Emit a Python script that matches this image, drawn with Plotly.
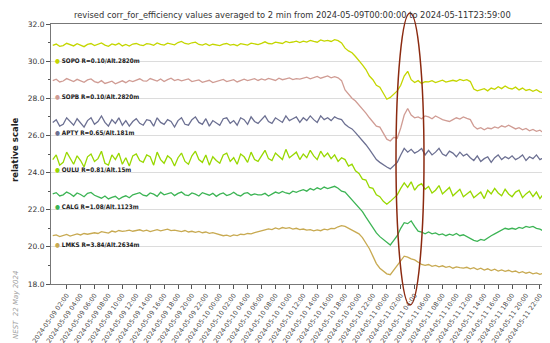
import pandas as pd
import plotly.graph_objects as go

# 30-minute samples, 2024-05-09 00:00 .. 2024-05-11 23:30
times = pd.date_range("2024-05-09 00:00", periods=144, freq="30min")

stations = ["SOPO", "SOPB", "APTY", "OULU", "CALG", "LMKS"]
station_labels = ["SOPO R=0.10/Alt.2820m", "SOPB R=0.10/Alt.2820m", "APTY R=0.65/Alt.181m",
                  "OULU R=0.81/Alt.15m", "CALG R=1.08/Alt.1123m", "LMKS R=3.84/Alt.2634m"]
label_levels = [30.05, 28.1, 26.15, 24.15, 22.15, 20.15]
colors = ["#c4d600", "#d09c94", "#6c7092", "#98d800", "#3cb454", "#c8aa52"]

sopo = [30.85, 30.92, 30.80, 30.84, 30.96, 30.88, 30.82, 30.94, 30.86, 30.78, 30.90, 30.95,
        30.84, 30.90, 30.98, 30.86, 30.80, 30.93, 30.87, 30.96, 30.82, 30.90, 30.81, 30.92,
        30.95, 30.88, 30.84, 30.94, 30.92, 30.85, 30.98, 30.90, 30.86, 30.97, 30.93, 30.88,
        31.00, 31.06, 30.95, 30.92, 30.99, 31.02, 30.90, 30.86, 30.94, 30.84, 30.91, 30.87,
        30.84, 30.92, 30.95, 30.86, 30.90, 30.83, 30.94, 30.90, 30.86, 30.97, 30.92, 30.89,
        30.96, 31.04, 30.95, 30.93, 31.02, 30.98, 30.95, 31.06, 31.00, 31.03, 31.08, 31.00,
        31.08, 31.03, 31.12, 31.06, 31.02, 31.14, 31.08, 31.12, 31.06, 31.16, 31.10, 30.98,
        30.70, 30.55, 30.45, 30.25, 30.05, 29.80, 29.55, 29.20, 29.00, 28.70, 28.60, 28.30,
        27.95, 28.05, 28.20, 28.40, 28.70, 29.20, 29.45, 29.00, 28.85, 28.95, 28.80, 28.90,
        28.88, 28.95, 28.85, 28.92, 28.98, 28.87, 28.90, 28.97, 28.92, 29.02, 28.95, 29.00,
        28.90, 28.50, 28.40, 28.47, 28.52, 28.40, 28.55, 28.48, 28.62, 28.52, 28.66, 28.55,
        28.50, 28.60, 28.45, 28.55, 28.42, 28.48, 28.38, 28.46, 28.35, 28.30, 28.40, 28.30]

sopb = [28.95, 29.03, 28.88, 28.93, 29.06, 28.98, 28.90, 29.02, 28.94, 28.86, 28.99, 29.04,
        28.90, 28.84, 28.95, 28.80, 28.86, 28.92, 28.78, 28.88, 28.94, 28.84, 28.96, 28.90,
        28.98, 29.05, 28.94, 28.92, 29.06, 28.99, 28.93, 29.04, 28.90, 29.00, 29.08, 28.95,
        29.02, 28.94, 28.98, 29.04, 28.90, 28.95, 28.99, 28.86, 28.93, 28.97, 28.85, 28.92,
        28.96, 29.02, 28.90, 28.94, 29.00, 28.88, 28.97, 29.03, 28.95, 29.00, 29.06, 28.96,
        29.04, 28.98, 29.07, 29.02, 28.96, 29.08, 29.00, 29.05, 29.10, 29.01, 29.06, 29.03,
        29.08, 29.14, 29.05, 29.12, 29.18, 29.08, 29.12, 29.20, 29.10, 29.16, 29.10, 28.95,
        28.45, 28.20, 28.00, 27.85, 27.65, 27.40, 27.20, 26.95, 26.75, 26.50, 26.45, 26.10,
        25.80, 25.70, 25.90, 25.85, 26.40, 27.10, 27.45, 27.10, 26.95, 27.00, 26.90, 27.05,
        27.00, 26.90, 27.05, 26.95, 26.85, 26.80, 26.75, 26.85, 26.95, 26.88, 27.00, 26.92,
        26.85, 26.50, 26.35, 26.42, 26.30, 26.40, 26.36, 26.46, 26.40, 26.52, 26.45, 26.55,
        26.45, 26.35, 26.42, 26.30, 26.38, 26.25, 26.32, 26.22, 26.28, 26.15, 26.20, 26.12]

apty = [26.70, 26.85, 26.50, 26.60, 26.95, 26.75, 26.55, 26.90, 26.65, 26.45, 26.80, 26.95,
        26.60, 26.75, 27.05, 26.70, 26.50, 26.85, 26.65, 26.95, 26.55, 26.80, 26.50, 26.75,
        26.90, 26.65, 26.55, 26.85, 26.80, 26.50, 26.95, 26.70, 26.60, 26.85, 26.75, 26.45,
        26.80, 26.95, 26.60, 26.55, 26.85, 27.00, 26.70, 26.60, 26.90, 26.50, 26.80, 26.65,
        26.55, 26.90, 26.95, 26.65, 26.80, 26.55, 26.95, 26.85, 26.60, 27.00, 26.75, 26.65,
        26.85, 27.05, 26.75, 26.65, 26.95, 26.80, 26.70, 27.05, 26.80, 26.90, 27.00, 26.70,
        26.95, 26.80, 27.05, 26.85, 26.70, 27.05, 26.85, 26.95, 26.80, 27.00, 26.90, 26.85,
        26.60, 26.45, 26.35, 26.15, 25.95, 25.75, 25.50, 25.25, 24.95, 24.70, 24.55, 24.40,
        24.30, 24.20, 24.40, 24.55, 24.95, 25.30, 25.10, 25.25, 25.05, 25.15, 25.30, 24.95,
        25.20, 24.95, 25.10, 25.30, 25.00, 24.90, 25.15, 25.05, 24.85, 25.10, 24.90, 25.00,
        24.80, 24.65, 24.90, 24.60, 24.75, 24.85, 24.55, 24.80, 24.95, 24.70, 24.85, 24.75,
        24.90, 24.70, 24.80, 24.95, 24.65, 24.85, 24.75, 24.95, 24.70, 24.80, 24.90, 24.75]

oulu = [24.70, 24.95, 24.40, 24.55, 25.10, 24.80, 24.45, 24.90, 24.65, 24.30, 24.85, 25.00,
        24.60, 24.75, 25.15, 24.50, 24.40, 24.95, 24.70, 25.05, 24.45, 24.80, 24.35, 24.90,
        25.00, 24.65, 24.55, 24.95, 24.85, 24.40, 25.10, 24.70, 24.50, 24.90, 24.75, 24.35,
        24.80, 25.05, 24.60, 24.45, 24.90, 25.15, 24.70, 24.55, 24.95, 24.40, 24.85, 24.65,
        24.50, 24.95, 25.05, 24.60, 24.80, 24.45, 25.00, 24.85, 24.55, 25.10, 24.70, 24.60,
        24.90, 25.20, 24.75, 24.65, 25.05, 24.85, 24.70, 25.25, 24.80, 24.95, 25.10, 24.70,
        25.00, 24.80, 25.20, 24.90, 24.70, 25.15, 24.85, 25.05, 24.75, 24.95, 24.60, 24.80,
        24.70, 24.35, 24.45, 24.10, 23.95, 23.65, 23.60, 23.20, 23.15, 22.80, 22.70, 22.45,
        22.30, 22.45, 22.65, 22.80, 23.15, 23.45, 23.20, 23.50, 23.05, 23.30, 23.40, 23.10,
        23.25, 22.90, 23.05, 23.30, 22.85, 23.00, 23.20, 22.75, 22.95, 23.10, 22.70, 22.85,
        23.00, 22.65, 22.80, 22.95, 22.60, 23.05, 22.85, 23.15, 22.90, 22.75, 23.10, 22.85,
        22.70, 22.95, 23.05, 22.65, 22.85, 23.00, 22.70, 22.95, 22.60, 22.85, 23.00, 22.75]

calg = [22.85, 22.92, 22.74, 22.80, 22.95, 22.86, 22.72, 22.90, 22.82, 22.70, 22.88, 22.93,
        22.78, 22.70, 22.62, 22.74, 22.58, 22.66, 22.72, 22.56, 22.68, 22.75, 22.64, 22.80,
        22.86, 22.92, 22.78, 22.74, 22.90, 22.84, 22.72, 22.94, 22.80, 22.86, 22.92, 22.76,
        22.88, 22.95, 22.80, 22.76, 22.90, 22.84, 22.74, 22.92, 22.86, 22.78, 22.88, 22.72,
        22.84, 22.90, 22.76, 22.82, 22.94, 22.80, 22.74, 22.88, 22.92, 22.78, 22.85, 22.80,
        22.80, 22.88, 22.74, 22.86, 22.95, 22.88, 22.98, 22.90, 22.86, 23.00, 22.94, 23.02,
        23.08, 23.00, 23.14, 23.06, 23.18, 23.10, 23.22, 23.14, 23.20, 23.26, 23.16, 23.00,
        22.95, 22.75, 22.55, 22.35, 22.10, 21.90, 21.60, 21.30, 21.00, 20.75, 20.55, 20.40,
        20.20, 20.10, 20.35, 20.60, 21.00, 21.30, 21.25, 21.40, 21.10, 20.85, 20.80, 20.70,
        20.80, 20.70, 20.75, 20.65, 20.70, 20.60, 20.68, 20.62, 20.72, 20.60, 20.65, 20.55,
        20.45, 20.35, 20.30, 20.40, 20.35, 20.50, 20.60, 20.70, 20.80, 20.90, 21.00, 20.95,
        21.00, 20.95, 21.05, 21.00, 21.10, 21.05, 21.10, 21.00, 20.95, 20.85, 20.75, 20.65]

lmks = [20.60, 20.64, 20.55, 20.62, 20.67, 20.58, 20.63, 20.70, 20.64, 20.72, 20.68, 20.74,
        20.76, 20.72, 20.82, 20.78, 20.74, 20.85, 20.80, 20.88, 20.83, 20.86, 20.90, 20.84,
        20.88, 20.92, 20.85, 20.90, 20.82, 20.87, 20.93, 20.86, 20.91, 20.95, 20.87, 20.90,
        20.86, 20.82, 20.88, 20.80, 20.84, 20.78, 20.83, 20.76, 20.80, 20.73, 20.77, 20.70,
        20.66, 20.60, 20.63, 20.57, 20.64, 20.61, 20.68, 20.66, 20.72, 20.70, 20.76, 20.80,
        20.86, 20.92, 20.97, 20.93, 21.02, 20.96, 21.04, 21.00, 21.03, 20.96, 21.00, 20.93,
        20.96, 20.90, 20.93, 20.86, 20.91, 20.87, 20.95, 20.92, 21.00, 20.98, 21.08, 21.14,
        21.10, 21.00, 20.90, 20.80, 20.70, 20.50, 20.20, 19.90, 19.50, 19.10, 18.85, 18.70,
        18.55, 18.50, 18.75, 19.00, 19.25, 19.50, 19.45, 19.35, 19.30, 19.15, 19.05, 19.00,
        19.05, 18.95, 19.00, 18.92, 18.98, 18.90, 18.95, 18.85, 18.92, 18.88, 18.85, 18.90,
        18.82, 18.88, 18.78, 18.85, 18.75, 18.82, 18.72, 18.80, 18.70, 18.76, 18.68, 18.74,
        18.65, 18.70, 18.60, 18.66, 18.58, 18.64, 18.55, 18.60, 18.52, 18.58, 18.50, 18.55]

series = [sopo, sopb, apty, oulu, calg, lmks]

y_ticks = [18, 20, 22, 24, 26, 28, 30, 32]
y_ticktext = ["18.0", "20.0", "22.0", "24.0", "26.0", "28.0", "30.0", "32.0"]
x_tickvals = pd.date_range("2024-05-09 02:00", "2024-05-12 00:00", freq="2h")
x_ticktext = [t.strftime("%Y-%m-%d %H:%M") for t in x_tickvals]

title_text = ("revised corr_for_efficiency values averaged to 2 min from "
              "2024-05-09T00:00:00 to 2024-05-11T23:59:00")

# plot-area geometry in pixels
L, R, T, B = 43, 547, 16, 276
W, H = R - L, B - T


def px(xp):
    return (xp - L) / W


def py(yp):
    return (B - yp) / H


fig = go.Figure()
for name, vals, col in zip(stations, series, colors):
    fig.add_trace(go.Scatter(x=times, y=vals, mode="lines", name=name,
                             line=dict(color=col, width=1.3)))

FONT = "DejaVu Sans"
for lab, lev, col in zip(station_labels, label_levels, colors):
    fig.add_annotation(x=px(46), xref="paper", y=lev, yref="y", xanchor="left", yanchor="middle",
                       showarrow=False, borderpad=0,
                       text=f'<span style="color:{col}">●</span> <b>{lab}</b>',
                       font=dict(family="DejaVu Sans Condensed, DejaVu Sans", size=6.3, color="#222"))

fig.add_annotation(x=px(284), xref="paper", y=py(7), yref="paper", xanchor="center",
                   yanchor="middle", showarrow=False, text=title_text,
                   font=dict(family=FONT, size=8.3, color="#333"))
fig.add_annotation(x=px(7), xref="paper", y=py(142), yref="paper", textangle=-90,
                   xanchor="center", yanchor="middle",
                   showarrow=False, text="<b>relative scale</b>",
                   font=dict(family=FONT, size=8.5, color="#222"))
fig.add_annotation(x=px(8), xref="paper", y=py(297), yref="paper", textangle=-90,
                   xanchor="center", yanchor="middle",
                   showarrow=False, text="<i>NEST  22 May 2024</i>",
                   font=dict(family=FONT, size=7, color="#a0a0a0"))

# highlighted ellipse
fig.add_shape(type="circle", xref="paper", yref="paper",
              x0=px(388), x1=px(416), y0=py(297), y1=py(5),
              line=dict(color="#8b2a10", width=1.5))

fig.update_layout(
    width=550, height=343,
    margin=dict(l=L, r=550 - R, t=T, b=343 - B, autoexpand=False),
    paper_bgcolor="white", plot_bgcolor="white",
    showlegend=False,
    font=dict(family=FONT, size=7, color="#444"),
)
fig.update_xaxes(range=["2024-05-08 23:45", "2024-05-12 00:10"], automargin=False,
                 tickvals=x_tickvals, ticktext=x_ticktext, tickangle=-55,
                 ticks="outside", ticklen=4, tickcolor="#555",
                 tickfont=dict(family=FONT, size=6.5, color="#444"),
                 showgrid=False, showline=True, mirror=True, linecolor="#777", linewidth=1,
                 zeroline=False)
fig.update_yaxes(range=[18, 32], tickvals=y_ticks, ticktext=y_ticktext, automargin=False,
                 ticks="outside", ticklen=4, tickcolor="#555",
                 tickfont=dict(family=FONT, size=7.5, color="#333"),
                 showgrid=True, gridcolor="#dcdcdc", gridwidth=1,
                 minor=dict(dtick=1, tick0=19, ticks="outside", ticklen=2, showgrid=False),
                 showline=True, mirror=True, linecolor="#777", linewidth=1, zeroline=False)

fig.write_html("out.html")
